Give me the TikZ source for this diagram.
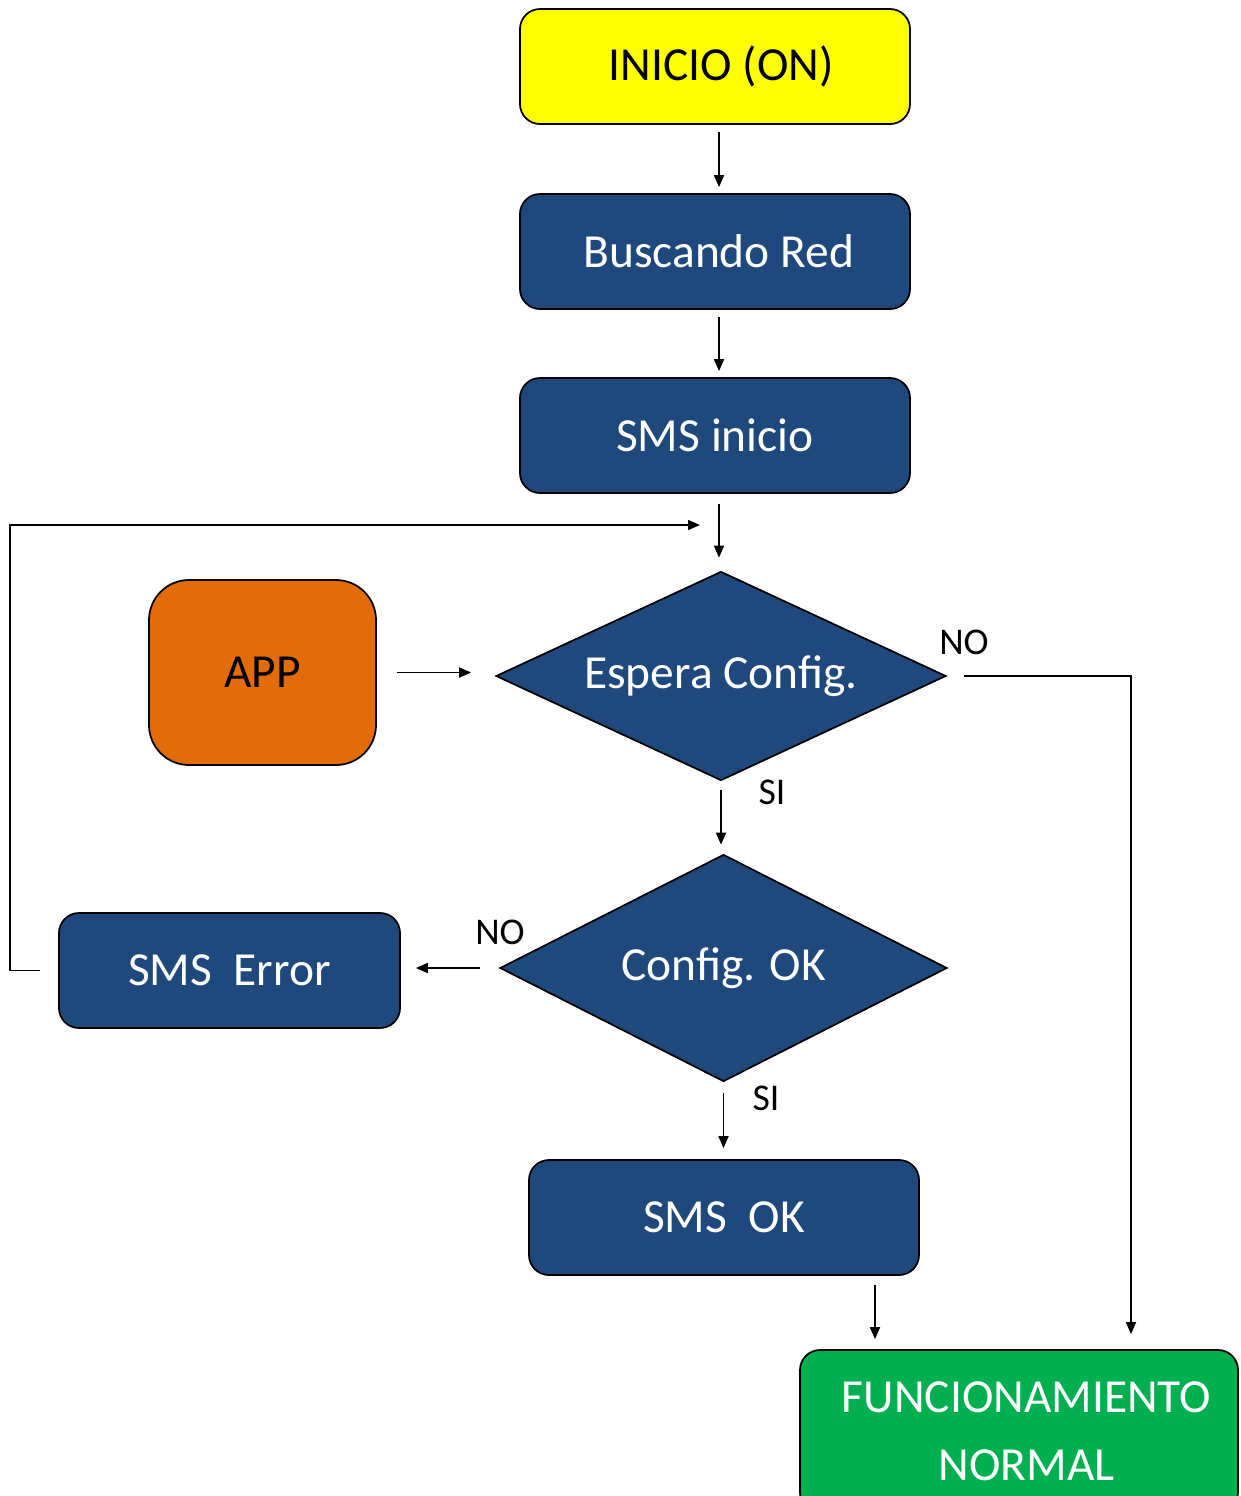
\documentclass[tikz,border=0pt]{standalone}
\usepackage{fontspec}
\setmainfont{Carlito}
\usepackage{xcolor}
\usetikzlibrary{shapes,shapes.geometric,arrows,arrows.meta,positioning,calc}
\definecolor{flowblue}{RGB}{31,73,125}
\definecolor{flowyellow}{RGB}{255,255,0}
\definecolor{floworange}{RGB}{226,107,10}
\definecolor{flowgreen}{RGB}{0,176,80}

\tikzset{
    stepbox/.style={draw, line width=1pt, rounded corners=0.4cm, fill=flowblue, text=white,
        minimum width=7.8cm, minimum height=2.3cm, font=\fontsize{27}{32}\selectfont},
    decision/.style={draw, line width=1pt, diamond, aspect=2.15, inner sep=0pt, fill=flowblue,
        text=white, font=\fontsize{27}{32}\selectfont},
    arr/.style={-{Triangle[length=2.4mm,width=2mm]}, line width=1pt},
    lbl/.style={font=\fontsize{21.5}{25}\selectfont}
}

\begin{document}
\begin{tikzpicture}
    \clip (0,0) rectangle (24.82,-29.92);

    \node[stepbox, fill=flowyellow, text=black] (inicio) at (14.3,-1.33) {\hspace{0.25cm}\raisebox{-0.08cm}{INICIO (ON)}};
    \node[stepbox] (buscando) at (14.3,-5.03) {\hspace{0.15cm}Buscando Red};
    \node[stepbox] (smsini) at (14.3,-8.71) {SMS inicio};
    \node[decision, minimum width=9cm, minimum height=4.18cm] (espera) at (14.42,-13.52) {Espera Config.};
    \node[stepbox, fill=floworange, text=black, rounded corners=0.8cm, minimum width=4.54cm,
        minimum height=3.7cm] (app) at (5.25,-13.45) {APP};
    \node[decision, minimum width=8.94cm, minimum height=4.54cm] (config) at (14.47,-19.36) {Config. OK};
    \node[stepbox, minimum width=6.82cm] (smserr) at (4.59,-19.41) {SMS\ \ Error};
    \node[stepbox] (smsok) at (14.48,-24.35) {SMS\ \ OK};
    \node[stepbox, fill=flowgreen, align=center, minimum width=8.76cm, minimum height=3.24cm,
        font=\fontsize{27}{38.5}\selectfont] (func) at (20.38,-28.62) {\hspace{0.3cm}FUNCIONAMIENTO\\\hspace{0.3cm}NORMAL};

    \coordinate (loopcorner) at (0.2,-10.46);
    \coordinate (loopend) at (14.0,-10.5);
    \coordinate (nocorner) at (22.62,-13.56);
    \coordinate (okx) at (17.5,0);
    \coordinate (topx) at (14.38,0);

    \draw[arr, shorten <=0.14cm, shorten >=0.12cm] (inicio.south -| topx) -- (buscando.north -| topx);
    \draw[arr, shorten <=0.14cm, shorten >=0.12cm] (buscando.south -| topx) -- (smsini.north -| topx);
    \draw[arr, shorten <=0.2cm, shorten >=0.26cm] (smsini.south -| topx) -- (espera.north -| topx);
    \draw[arr, shorten <=0.4cm, shorten >=0.48cm] (app.east) -- (app.east -| espera.west);
    \draw[arr, shorten <=0.18cm, shorten >=0.18cm] (espera.south) -- (espera.south |- config.north);
    \draw[arr, shorten <=0.38cm, shorten >=0.3cm] (config.west) -- (config.west -| smserr.east);
    \draw[arr, shorten <=0.22cm, shorten >=0.22cm] (config.south) -- (config.south |- smsok.north);
    \draw[arr, shorten <=0.18cm, shorten >=0.2cm] (smsok.south -| okx) -- (func.north -| okx);

    % loop back to the decision
    \draw[arr, shorten <=0.36cm] (smserr.west) -- (smserr.west -| loopcorner) |- (loopend);

    % NO branch to normal operation
    \draw[arr, shorten <=0.34cm, shorten >=0.3cm] (espera.east) -| (nocorner |- func.north);

    \node[lbl] (nolbl1) at (19.28,-12.84) {NO};
    \node[lbl] (silbl1) at (15.44,-15.84) {SI};
    \node[lbl] (nolbl2) at (10.0,-18.64) {NO};
    \node[lbl] (silbl2) at (15.32,-21.96) {SI};
\end{tikzpicture}
\end{document}
